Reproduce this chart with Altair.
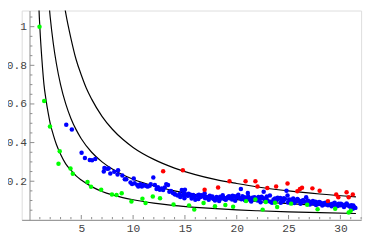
import altair as alt
import pandas as pd

# ---- curves ----
low_x = [0.85, 0.95, 1.05, 1.2, 1.4, 1.6, 1.8, 2.0, 2.3, 2.6, 3.0, 3.5, 4.0, 4.5, 5.0, 6.0, 7.0, 8.0, 9.0, 10.0, 12.0, 14.0, 16.0, 18.0, 20.0, 22.0, 25.0, 28.0, 31.5]
low_y = [1.18, 1.05, 0.95, 0.83, 0.70, 0.62, 0.555, 0.50, 0.44, 0.39, 0.34, 0.29, 0.257, 0.228, 0.206, 0.172, 0.147, 0.129, 0.115, 0.104, 0.087, 0.074, 0.065, 0.058, 0.052, 0.047, 0.041, 0.037, 0.033]
mid_x = [1.8, 2.0, 2.3, 2.6, 3.0, 3.5, 4.0, 4.5, 5.0, 6.0, 7.0, 8.0, 9.0, 10.0, 12.0, 14.0, 16.0, 18.0, 20.0, 22.0, 25.0, 28.0, 31.5]
mid_y = [1.167, 1.05, 0.913, 0.808, 0.70, 0.60, 0.525, 0.467, 0.42, 0.35, 0.30, 0.263, 0.233, 0.21, 0.175, 0.15, 0.131, 0.117, 0.105, 0.095, 0.084, 0.075, 0.067]
top_x = [3.2, 3.5, 4.0, 4.5, 5.0, 5.5, 6.0, 7.0, 8.0, 9.0, 10.0, 12.0, 14.0, 16.0, 18.0, 20.0, 22.0, 25.0, 28.0, 31.5]
top_y = [1.17, 1.07, 0.94, 0.83, 0.75, 0.68, 0.625, 0.536, 0.469, 0.417, 0.375, 0.313, 0.268, 0.234, 0.208, 0.188, 0.17, 0.15, 0.134, 0.119]

# ---- points ----
green_x = [0.97, 1.42, 1.98, 2.8, 2.92, 3.96, 4.18, 5.6, 5.94, 6.92, 7.96, 8.4, 8.9, 9.84, 10.9, 11.2, 11.9, 12.6, 13.9, 15.4, 15.9, 16.8, 17.9, 18.9, 19.65, 20.9, 21.8, 22.5, 22.8, 23.7, 23.9, 25.25, 26.8, 27.8, 29.5, 30.8, 31.0]
green_y = [1.0, 0.615, 0.483, 0.29, 0.355, 0.266, 0.239, 0.196, 0.171, 0.156, 0.131, 0.129, 0.138, 0.095, 0.109, 0.087, 0.121, 0.112, 0.08, 0.075, 0.053, 0.087, 0.07, 0.077, 0.068, 0.097, 0.105, 0.053, 0.092, 0.089, 0.067, 0.084, 0.078, 0.055, 0.058, 0.038, 0.047]

red_x = [12.9, 14.8, 16.9, 18.2, 19.3, 20.85, 21.8, 22.0, 22.95, 23.8, 24.9, 25.85, 26.1, 26.3, 27.3, 28.0, 28.8, 29.6, 29.8, 30.6, 30.8, 31.2]
red_y = [0.252, 0.257, 0.156, 0.167, 0.20, 0.20, 0.20, 0.173, 0.165, 0.173, 0.188, 0.148, 0.16, 0.166, 0.163, 0.151, 0.097, 0.131, 0.117, 0.143, 0.117, 0.131]

blue_x = [3.55, 4.09, 5.03, 5.35, 5.82, 6.04, 6.35, 7.17, 7.23, 7.5,
          7.64, 7.8, 8.18, 8.5, 8.55, 8.96, 9.2, 9.34, 9.75, 9.9, 10.06, 10.15, 10.4, 10.5, 10.7, 10.85, 11.0, 11.2, 11.4, 11.6,
          11.7, 11.95, 12.1, 12.26, 12.4, 12.58, 12.75, 12.9, 13.05, 13.2, 13.37, 13.5, 13.65, 13.84, 14.0, 14.06, 14.3, 14.5, 14.7, 14.8,
          14.9, 15.0, 15.1, 15.25, 15.4, 15.55, 15.7, 15.8, 16.0,
          16.2, 16.35, 16.5, 16.7, 16.9, 17.05, 17.2, 17.4, 17.6, 17.75, 17.9, 18.05, 18.2, 18.4, 18.55, 18.7, 18.85, 19.0, 19.15, 19.3,
          19.45, 19.6, 19.75, 19.9, 20.05, 20.2, 20.4, 20.55, 20.75, 20.9, 21.07, 21.2, 21.35, 21.5, 21.65, 21.8, 21.95, 22.1, 22.25, 22.4,
          22.6, 22.7, 22.85, 23.0, 23.2, 23.4, 23.55, 23.7, 23.85, 24.05, 24.2,
          24.35, 24.5, 24.65, 24.8, 24.9, 25.05, 25.2, 25.3, 25.45, 25.6, 25.75, 25.9, 26.05, 26.2, 26.35, 26.5, 26.7, 26.85, 27.0, 27.15,
          27.3, 27.45, 27.6, 27.75, 27.9, 28.05, 28.2, 28.35, 28.5, 28.65, 28.8, 28.95, 29.1, 29.25, 29.4, 29.55, 29.7, 29.85, 30.0, 30.15,
          30.3, 30.45, 30.6, 30.75, 30.9, 31.05, 31.2, 31.35, 31.45,
          14.55, 14.95, 15.35, 15.65, 15.95, 16.3, 16.6, 16.95, 17.3, 17.65, 17.95, 18.3, 18.65, 18.95, 19.25, 19.55, 19.85, 20.15,
          20.45, 20.8, 21.1, 21.4, 21.7, 22.0, 22.3, 22.55, 22.9, 23.25, 23.6, 23.95, 24.25, 24.55, 24.95, 25.25, 25.55, 25.85,
          26.15, 26.45, 26.75, 27.05, 27.35, 27.65, 27.95, 28.25, 28.55, 28.85, 29.15, 29.45, 29.75, 30.05, 30.35, 30.65, 30.95, 31.25]
blue_y = [0.492, 0.468, 0.347, 0.32, 0.31, 0.308, 0.315, 0.25, 0.269, 0.265,
          0.266, 0.24, 0.249, 0.235, 0.257, 0.23, 0.21, 0.21, 0.193, 0.185, 0.214, 0.19, 0.18, 0.173, 0.185, 0.173, 0.18, 0.176, 0.172, 0.176,
          0.185, 0.219, 0.18, 0.16, 0.169, 0.156, 0.162, 0.154, 0.168, 0.185, 0.18, 0.146, 0.15, 0.139, 0.134, 0.131, 0.126, 0.134, 0.154, 0.126,
          0.14, 0.156, 0.13, 0.125, 0.126, 0.13, 0.12, 0.129, 0.104,
          0.126, 0.13, 0.118, 0.122, 0.138, 0.12, 0.112, 0.125, 0.115, 0.108, 0.10, 0.118, 0.113, 0.12, 0.11, 0.116, 0.107, 0.113, 0.118, 0.112,
          0.12, 0.125, 0.122, 0.118, 0.124, 0.114, 0.16, 0.122, 0.117, 0.11, 0.139, 0.112, 0.10, 0.115, 0.108, 0.113, 0.105, 0.118, 0.11, 0.12,
          0.146, 0.105, 0.112, 0.098, 0.126, 0.089, 0.105, 0.11, 0.10, 0.109, 0.113,
          0.103, 0.098, 0.108, 0.151, 0.126, 0.105, 0.095, 0.10, 0.11, 0.102, 0.096, 0.104, 0.098, 0.09, 0.10, 0.094, 0.117, 0.10, 0.095, 0.088,
          0.092, 0.085, 0.094, 0.088, 0.082, 0.09, 0.083, 0.086, 0.079, 0.084, 0.075, 0.081, 0.077, 0.083, 0.08, 0.074, 0.078, 0.083, 0.076, 0.08,
          0.072, 0.078, 0.085, 0.074, 0.07, 0.076, 0.058, 0.065, 0.062,
          0.118, 0.112, 0.135, 0.11, 0.118, 0.108, 0.128, 0.112, 0.104, 0.121, 0.109, 0.098, 0.127, 0.104, 0.122, 0.105, 0.099, 0.13,
          0.107, 0.102, 0.122, 0.095, 0.117, 0.10, 0.091, 0.112, 0.121, 0.094, 0.098, 0.114, 0.088, 0.112, 0.09, 0.104, 0.087, 0.108,
          0.083, 0.101, 0.09, 0.08, 0.098, 0.077, 0.092, 0.074, 0.089, 0.085, 0.07, 0.088, 0.072, 0.084, 0.066, 0.08, 0.068, 0.074]

x_major = [5, 10, 15, 20, 25, 30]
x_minor = [v for v in range(1, 33) if v % 5 != 0]
y_major = [0.2, 0.4, 0.6, 0.8, 1.0]
y_minor = [0.05, 0.1, 0.15, 0.25, 0.3, 0.35, 0.45, 0.5, 0.55, 0.65, 0.7, 0.75, 0.85, 0.9, 0.95, 1.05]

W, H = 347, 214
AX = "#8c8c8c"
FONT = "Liberation Mono"

curves = pd.concat([
    pd.DataFrame({"x": low_x, "y": low_y, "c": "a"}),
    pd.DataFrame({"x": mid_x, "y": mid_y, "c": "b"}),
    pd.DataFrame({"x": top_x, "y": top_y, "c": "c"}),
])
green = pd.DataFrame({"x": green_x, "y": green_y})
red = pd.DataFrame({"x": red_x, "y": red_y})
blue = pd.DataFrame({"x": blue_x, "y": blue_y})
xt = pd.concat([pd.DataFrame({"v": x_major, "k": "major"}), pd.DataFrame({"v": x_minor, "k": "minor"})])
yt = pd.concat([pd.DataFrame({"v": y_major, "k": "major"}), pd.DataFrame({"v": y_minor, "k": "minor"})])

xs = alt.Scale(domain=[-0.75, 32], nice=False, zero=False)
ys = alt.Scale(domain=[0, 1.0835], nice=False, zero=False)

ax_bottom = alt.Axis(orient="bottom", values=x_major, tickSize=0, labelPadding=3, title=None,
                     grid=False, domainColor=AX, labelFont=FONT, labelFontSize=11.5, labelColor="#444",
                     labelFlush=False, labelOverlap=False)
ax_left = alt.Axis(orient="left", values=y_major, tickSize=0, labelPadding=3, title=None, offset=-8,
                   grid=False, domainColor=AX, labelFont=FONT, labelFontSize=11.5, labelColor="#444",
                   format=".1~f", labelFlush=False, labelOverlap=False)

lines = alt.Chart(curves).mark_line(color="black", strokeWidth=1.2, clip=True, interpolate="monotone").encode(
    x=alt.X("x:Q", scale=xs, axis=ax_bottom),
    y=alt.Y("y:Q", scale=ys, axis=ax_left),
    detail="c:N",
)

def xticks(kind, size):
    return alt.Chart(xt).transform_filter(alt.datum.k == kind).mark_tick(
        orient="vertical", size=size, thickness=1, color=AX, yOffset=-size / 2 - 0.5, opacity=1
    ).encode(x=alt.X("v:Q", scale=xs), y=alt.datum(0, scale=ys))

def yticks(kind, size):
    return alt.Chart(yt).transform_filter(alt.datum.k == kind).mark_tick(
        orient="horizontal", size=size, thickness=1, color=AX, xOffset=size / 2 + 0.5, opacity=1
    ).encode(y=alt.Y("v:Q", scale=ys), x=alt.datum(0, scale=xs))

blue_l = alt.Chart(blue).mark_circle(color="#0000ff", size=21, opacity=1).encode(
    x=alt.X("x:Q", scale=xs), y=alt.Y("y:Q", scale=ys))
red_l = alt.Chart(red).mark_circle(color="#ff0000", size=21, opacity=1).encode(
    x=alt.X("x:Q", scale=xs), y=alt.Y("y:Q", scale=ys))
green_l = alt.Chart(green).mark_circle(color="#00ff00", size=21, opacity=1).encode(
    x=alt.X("x:Q", scale=xs), y=alt.Y("y:Q", scale=ys))

chart = alt.layer(lines, xticks("major", 4.5), xticks("minor", 2.5), yticks("major", 4.5), yticks("minor", 2.5),
                  blue_l, red_l, green_l).properties(
    width=W, height=H, autosize=alt.AutoSizeParams(type="none"),
    padding={"left": 14, "top": 0, "right": 5, "bottom": 18},
).configure_view(stroke=None).configure(background="white")

chart.save("out.html", embed_options={"renderer": "svg", "actions": False})
